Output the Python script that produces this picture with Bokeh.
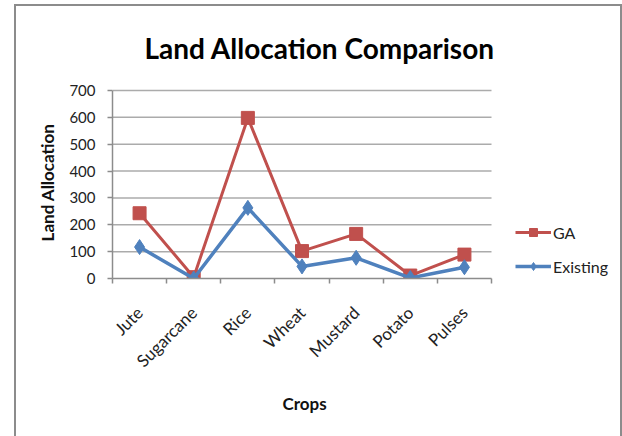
import math
from bokeh.plotting import figure
from bokeh.models import Range1d, FixedTicker, Legend, LegendItem, Title, InlineStyleSheet
from bokeh.embed import file_html
from bokeh.resources import INLINE

crops = ["Jute", "Sugarcane", "Rice", "Wheat", "Mustard", "Potato", "Pulses"]
ga = [243, 5, 598, 102, 166, 11, 89]
existing = [117, 0, 263, 45, 77, 2, 42]
y_ticks = [0, 100, 200, 300, 400, 500, 600, 700]

FONT = "Lato"
GA_COLOR = "#C0504D"
EX_COLOR = "#4F81BD"
GRID = "#ababab"
AXIS = "#8c8c8c"

xs = list(range(len(crops)))
x_lo, x_hi = xs[0] - 0.5, xs[-1] + 0.5

# geometry (pixels): plot area 379 px wide, legend area to its right inside the same frame
PLOT_W, LEG_W, PLOT_H, TOP_PAD = 379, 131, 188, 4
x_end = x_hi + LEG_W * (x_hi - x_lo) / PLOT_W
y_end = y_ticks[-1] * (1 + TOP_PAD / PLOT_H)

p = figure(frame_width=PLOT_W + LEG_W, frame_height=PLOT_H + TOP_PAD,
           output_backend="svg", toolbar_location=None,
           x_range=Range1d(x_lo, x_end), y_range=Range1d(0, y_end),
           min_border_left=112, min_border_right=0, min_border_top=86,
           min_border_bottom=158)
p.outline_line_color = None
p.background_fill_color = "white"
p.border_fill_color = "white"

# outer chart-area frame (decoration drawn with CSS over the canvas)
css = (":host { position: relative; }"
       ":host::after { content: ''; position: absolute; left: 14px; top: 4px; right: 0px; bottom: 0px;"
       " border: 2px solid #8c8c8c; border-bottom: none; pointer-events: none; z-index: 10; }")
p.stylesheets = [InlineStyleSheet(css=css)]

# axes
p.xaxis.ticker = FixedTicker(ticks=xs, minor_ticks=[i - 0.5 for i in range(len(crops) + 1)])
p.xaxis.bounds = (x_lo, x_hi)
p.xaxis.major_label_overrides = {i: c for i, c in enumerate(crops)}
p.xaxis.major_label_orientation = math.pi / 4
p.xaxis.major_tick_line_color = None
p.xaxis.major_tick_out = 5
p.xaxis.major_tick_in = 0
p.xaxis.minor_tick_line_color = AXIS
p.xaxis.minor_tick_out = 5
p.xaxis.minor_tick_in = 0
p.xaxis.minor_tick_line_width = 1.5

p.yaxis.ticker = FixedTicker(ticks=y_ticks)
p.yaxis.bounds = (y_ticks[0], y_ticks[-1])
p.yaxis.major_tick_out = 5
p.yaxis.major_tick_in = 0
p.yaxis.minor_tick_line_color = None
p.yaxis.major_tick_line_color = AXIS
p.yaxis.major_tick_line_width = 1.5
p.yaxis.axis_label = "Land Allocation"

for ax in (p.xaxis, p.yaxis):
    ax.axis_line_color = AXIS
    ax.axis_line_width = 1.5
    ax.major_label_text_font = FONT
    ax.major_label_text_font_size = "15px"
    ax.major_label_text_color = "#222222"
    ax.axis_label_text_font = FONT
    ax.axis_label_text_font_size = "17px"
    ax.axis_label_text_font_style = "bold"
    ax.axis_label_text_color = "#111111"
p.xaxis.major_label_text_font_size = "17px"
p.yaxis.major_label_standoff = 12
p.yaxis.axis_label_standoff = 8
p.xaxis.major_label_standoff = 26

# x-axis title, centred under the plot area (not under the legend area)
xtitle = Title(text="Crops", align="left", offset=170, text_font=FONT,
               text_font_size="17px", text_font_style="bold", text_color="#111111",
               standoff=18)
p.add_layout(xtitle, "below")

p.xgrid.grid_line_color = None
p.ygrid.grid_line_color = None
# horizontal gridlines limited to the plot area
p.segment(x0=[x_lo] * len(y_ticks[1:]), x1=[x_hi] * len(y_ticks[1:]),
          y0=y_ticks[1:], y1=y_ticks[1:], line_color=GRID, line_width=1.5)

# series
l1 = p.line(xs, ga, line_color=GA_COLOR, line_width=3)
s1 = p.scatter(xs, ga, marker="square", size=13, fill_color=GA_COLOR, line_color=GA_COLOR)
l2 = p.line(xs, existing, line_color=EX_COLOR, line_width=3.5)
s2 = p.scatter(xs, existing, marker="diamond", size=15, fill_color=EX_COLOR, line_color=EX_COLOR)

legend = Legend(items=[LegendItem(label="GA", renderers=[l1, s1]),
                       LegendItem(label="Existing", renderers=[l2, s2])],
                location=(PLOT_W + 24, 2), orientation="vertical")
legend.border_line_color = None
legend.background_fill_alpha = 0
legend.glyph_width = 36
legend.glyph_height = 20
legend.label_height = 20
legend.spacing = 14
legend.padding = 0
legend.margin = 0
legend.label_standoff = 2
legend.label_text_font = FONT
legend.label_text_font_size = "16px"
legend.label_text_color = "#222222"
p.add_layout(legend, "center")

title = Title(text="Land Allocation Comparison", align="left", offset=32,
              text_font=FONT, text_font_size="28px", text_font_style="bold",
              text_color="#000000", standoff=44)
p.add_layout(title, "above")

open("out.html", "w").write(file_html(p, INLINE))
